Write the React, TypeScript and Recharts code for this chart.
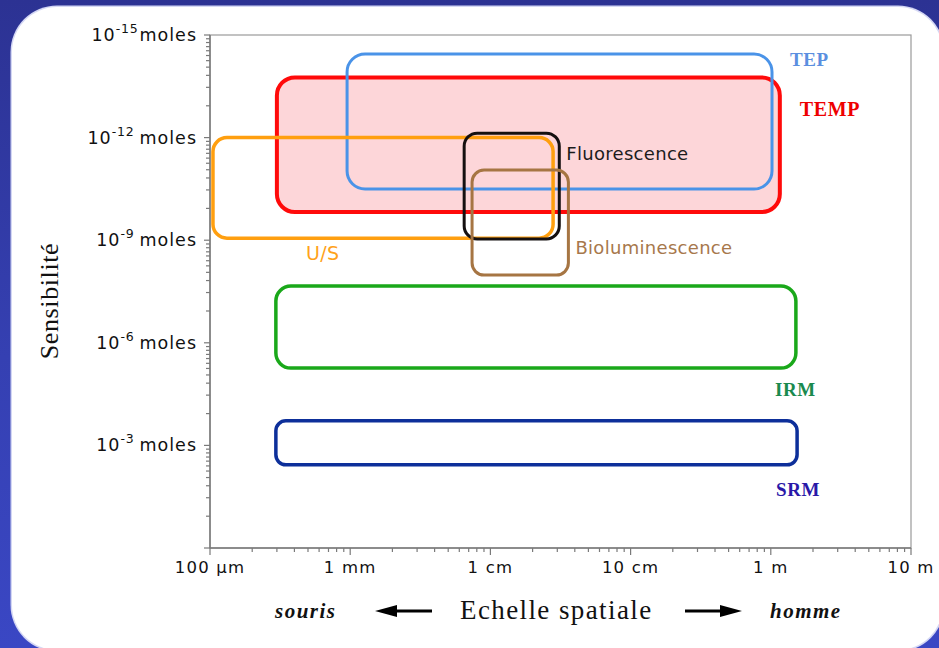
import React from "react";
import { ComposedChart, XAxis, YAxis, ReferenceArea } from "recharts";

// x axis: spatial scale in metres (log)
const xTickValues = [1e-4, 1e-3, 1e-2, 1e-1, 1, 10];
const xTickLabels = ["100 µm", "1 mm", "1 cm", "10 cm", "1 m", "10 m"];
const xMinorMultipliers = [2, 3, 4, 5, 6, 7, 8, 9];

// y axis: sensitivity in moles (log, reversed)
const yMajorExponents = [-15, -12, -9, -6, -3, 0];
// minor ticks, in decades below each major tick
const yMinorOffsets = [0.11, 0.22, 0.34, 0.46, 0.6, 0.75, 0.94, 1.18, 1.53, 2.07];

// imaging techniques, drawn in this order
const techniques = ["TEMP", "TEP", "U/S", "Fluorescence", "Bioluminescence", "IRM", "SRM"];
const sizeMin = [3.0e-4, 9.5e-4, 1.05e-4, 6.5e-3, 7.4e-3, 2.95e-4, 2.95e-4];
const sizeMax = [1.16, 1.02, 2.8e-2, 3.1e-2, 3.6e-2, 1.51, 1.54];
const molesMin = [1.74e-14, 3.6e-15, 1.0e-12, 7.4e-13, 8.9e-12, 2.2e-8, 1.9e-4];
const molesMax = [1.5e-10, 3.2e-11, 8.7e-10, 9.2e-10, 1.05e-8, 5.5e-6, 3.7e-3];

const SANS = "'DejaVu Sans', Verdana, sans-serif";
const SERIF = "'Liberation Serif', 'Times New Roman', serif";
const AXIS = "#7a7a7a";

// label anchor: which side of the box and pixel offsets
const styles: Record<string, any> = {
  TEMP: { stroke: "#ff0a0a", fill: "#fdd6d9", width: 4, r: 18, color: "#ee0000", serif: true, size: 20, side: "right", dx: 20, dy: 32 },
  TEP: { stroke: "#4a93e8", fill: "none", width: 3, r: 18, color: "#5b8fe0", serif: true, size: 19, side: "right", dx: 18, dy: 5 },
  "U/S": { stroke: "#ff9f0f", fill: "none", width: 3.5, r: 14, color: "#ffa21a", serif: false, size: 19, side: "left", dx: 93, dy: 15, fromBottom: true },
  Fluorescence: { stroke: "#151010", fill: "none", width: 3, r: 13, color: "#1c1c1c", serif: false, size: 18, side: "right", dx: 7, dy: 20 },
  Bioluminescence: { stroke: "#a67543", fill: "none", width: 3, r: 12, color: "#a7784c", serif: false, size: 18, side: "right", dx: 7, dy: -28, fromBottom: true },
  IRM: { stroke: "#1aa81a", fill: "none", width: 3.5, r: 15, color: "#1a8a4e", serif: true, size: 19, side: "right", dx: -21, dy: 21, fromBottom: true },
  SRM: { stroke: "#0d2f9a", fill: "none", width: 3.5, r: 10, color: "#2a18a8", serif: true, size: 19, side: "right", dx: -21, dy: 25, fromBottom: true },
};

const xTicks: number[] = [];
xTickValues.forEach((v, i) => {
  xTicks.push(v);
  if (i < xTickValues.length - 1) xMinorMultipliers.forEach((m) => xTicks.push(v * m));
});

const yTicks: number[] = [];
yMajorExponents.forEach((e, i) => {
  yTicks.push(Math.pow(10, e));
  if (i < yMajorExponents.length - 1) yMinorOffsets.forEach((o) => yTicks.push(Math.pow(10, e + o)));
});

const XTick = (props: any) => {
  const { x, y, payload } = props;
  const idx = xTickValues.findIndex((v) => Math.abs(v - payload.value) / v < 1e-6);
  const major = idx >= 0;
  return (
    <g>
      <line x1={x} x2={x} y1={y} y2={y + (major ? 7 : 4)} stroke={AXIS} strokeWidth={1.2} />
      {major && (
        <text x={x} y={y + 25} textAnchor="middle" fontFamily={SANS} fontSize={16.5} letterSpacing={1.2} fill="#111">
          {xTickLabels[idx]}
        </text>
      )}
    </g>
  );
};

const YTick = (props: any) => {
  const { x, y, payload } = props;
  const e = Math.log10(payload.value);
  const exp = Math.round(e);
  const major = Math.abs(e - exp) < 1e-6 && exp % 3 === 0;
  return (
    <g>
      <line x1={x} x2={x - (major ? 6 : 4)} y1={y} y2={y} stroke={AXIS} strokeWidth={1.2} />
      {major && exp < 0 && (
        <text x={x - 13} y={y + 6} textAnchor="end" fontFamily={SANS} fontSize={17.5} letterSpacing={1} fill="#111">
          <tspan>10</tspan>
          <tspan dy={-8} fontSize={12.5} letterSpacing={0.8}>{String(exp)}</tspan>
          <tspan dy={8} dx={exp === -15 ? 1 : 5}>moles</tspan>
        </text>
      )}
    </g>
  );
};

const boxShape = (name: string) => (p: any) => {
  const s = styles[name];
  const x = Math.min(p.x, p.x + p.width);
  const y = Math.min(p.y, p.y + p.height);
  const w = Math.abs(p.width);
  const h = Math.abs(p.height);
  const lx = s.side === "right" ? x + w + s.dx : x + s.dx;
  const ly = s.fromBottom ? y + h + s.dy : y + s.dy;
  return (
    <g>
      <rect x={x} y={y} width={w} height={h} rx={s.r} ry={s.r} fill={s.fill} stroke={s.stroke} strokeWidth={s.width} />
      <text
        x={lx}
        y={ly}
        dominantBaseline="central"
        fontFamily={s.serif ? SERIF : SANS}
        fontWeight={s.serif ? "bold" : "normal"}
        fontSize={s.size}
        letterSpacing={s.serif ? 0.6 : 0.3}
        fill={s.color}
      >
        {name}
      </text>
    </g>
  );
};

const Arrow = ({ x1, x2, y }: { x1: number; x2: number; y: number }) => {
  const dir = x2 > x1 ? 1 : -1;
  return (
    <g>
      <line x1={x1} x2={x2 - dir * 14} y1={y} y2={y} stroke="#000" strokeWidth={3} />
      <polygon points={`${x2},${y} ${x2 - dir * 22},${y - 6} ${x2 - dir * 22},${y + 6}`} fill="#000" />
    </g>
  );
};

export default function App() {
  return (
    <div
      style={{
        position: "absolute",
        left: 0,
        top: 0,
        width: 939,
        height: 648,
        overflow: "hidden",
        background: "linear-gradient(180deg, #2c3293 0%, #3540b2 55%, #3a47c4 100%)",
      }}
    >
      <div
        style={{
          position: "absolute",
          left: 12,
          top: 7,
          width: 931,
          height: 643,
          borderRadius: 45,
          background: "#fff",
          boxShadow: "0 0 0 1.5px #d4d7f4",
        }}
      />
      <div style={{ position: "absolute", left: 0, top: 0 }}>
        <ComposedChart width={939} height={648} margin={{ top: 35, right: 28, bottom: 60, left: 0 }}>
          <XAxis
            dataKey="x"
            type="number"
            scale="log"
            domain={[1e-4, 10]}
            allowDataOverflow
            ticks={xTicks}
            interval={0}
            tickSize={0}
            tickMargin={0}
            tickLine={false}
            tick={<XTick />}
            height={40}
            axisLine={{ stroke: AXIS, strokeWidth: 1.5 }}
          />
          <YAxis
            dataKey="y"
            type="number"
            scale="log"
            domain={[1e-15, 1]}
            reversed
            allowDataOverflow
            ticks={yTicks}
            interval={0}
            tickSize={0}
            tickMargin={0}
            tickLine={false}
            tick={<YTick />}
            width={210}
            axisLine={{ stroke: AXIS, strokeWidth: 1.5 }}
          />
          <ReferenceArea
            x1={1e-4}
            x2={10}
            y1={1e-15}
            y2={1}
            ifOverflow="visible"
            shape={(p: any) => (
              <rect x={p.x} y={p.y} width={p.width} height={p.height} fill="none" stroke="#9a9a9a" strokeWidth={1.2} />
            )}
          />
          {techniques.map((name, i) => (
            <ReferenceArea
              key={name}
              x1={sizeMin[i]}
              x2={sizeMax[i]}
              y1={molesMin[i]}
              y2={molesMax[i]}
              ifOverflow="visible"
              shape={boxShape(name)}
            />
          ))}
        </ComposedChart>
      </div>
      <svg width={939} height={648} style={{ position: "absolute", left: 0, top: 0, pointerEvents: "none" }}>
        <text
          transform="translate(58,301) rotate(-90)"
          textAnchor="middle"
          fontFamily={SERIF}
          fontSize={26}
          letterSpacing={0.6}
          fill="#111"
        >
          Sensibilité
        </text>
        <text x={275} y={618} fontFamily={SERIF} fontStyle="italic" fontWeight="bold" fontSize={21} letterSpacing={1.5} fill="#111">
          souris
        </text>
        <Arrow x1={432} x2={375} y={611} />
        <text x={460} y={619} fontFamily={SERIF} fontSize={27} letterSpacing={1.4} fill="#111">
          Echelle spatiale
        </text>
        <Arrow x1={685} x2={742} y={611} />
        <text x={770} y={618} fontFamily={SERIF} fontStyle="italic" fontWeight="bold" fontSize={21} letterSpacing={1.5} fill="#111">
          homme
        </text>
      </svg>
    </div>
  );
}
